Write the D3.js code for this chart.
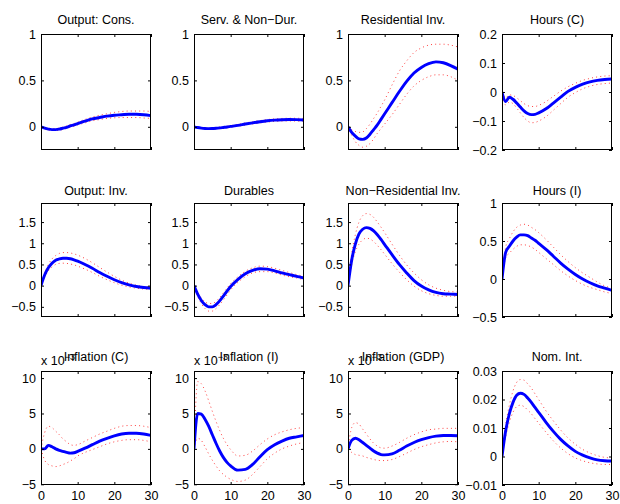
<!DOCTYPE html>
<html><head><meta charset="utf-8">
<script src="https://cdn.jsdelivr.net/npm/d3@7"></script>
<style>
html,body{margin:0;padding:0;background:#fff;}
text{font-family:"Liberation Sans",Arial,Helvetica,sans-serif;}
</style></head><body>
<svg id="chart" width="620" height="504"></svg>
<script>
// Horizon (quarters) at which responses are read
const T = [0,1,2,3,4,5,6,7,8,9,10,12,14,16,18,20,22,24,26,28,30];

const titles = ["Output: Cons.","Serv. & Non\u2212Dur.","Residential Inv.","Hours (C)",
  "Output: Inv.","Durables","Non\u2212Residential Inv.","Hours (I)",
  "Inflation (C)","Inflation (I)","Inflation (GDP)","Nom. Int."];

// Output: Cons.
const consMed=[0,-0.015,-0.025,-0.03,-0.03,-0.025,-0.015,-0.005,0.01,0.02,0.035,0.06,0.085,0.1,0.115,0.125,0.13,0.135,0.135,0.13,0.12];
const consUp =[0,-0.01,-0.015,-0.02,-0.02,-0.012,-0.002,0.01,0.025,0.035,0.05,0.08,0.105,0.125,0.14,0.155,0.165,0.17,0.17,0.17,0.165];
const consLo =[0,-0.02,-0.035,-0.04,-0.04,-0.037,-0.028,-0.018,-0.005,0.005,0.02,0.042,0.065,0.078,0.09,0.097,0.1,0.1,0.1,0.095,0.09];
// Serv. & Non-Dur.
const servMed=[0,-0.008,-0.014,-0.018,-0.02,-0.019,-0.016,-0.012,-0.007,-0.002,0.004,0.016,0.03,0.043,0.055,0.065,0.072,0.076,0.078,0.077,0.074];
const servUp =[0,-0.005,-0.01,-0.013,-0.014,-0.012,-0.009,-0.004,0.002,0.007,0.013,0.026,0.041,0.055,0.067,0.078,0.085,0.09,0.092,0.092,0.09];
const servLo =[0,-0.011,-0.018,-0.023,-0.026,-0.026,-0.024,-0.02,-0.016,-0.011,-0.005,0.006,0.019,0.031,0.042,0.051,0.058,0.062,0.063,0.062,0.059];
// Residential Inv.
const resMed=[0,-0.06,-0.1,-0.13,-0.135,-0.12,-0.08,-0.03,0.02,0.08,0.14,0.26,0.38,0.49,0.58,0.64,0.68,0.7,0.69,0.66,0.62];
const resUp =[0,-0.03,-0.05,-0.06,-0.055,-0.02,0.03,0.09,0.15,0.22,0.29,0.45,0.6,0.71,0.8,0.85,0.88,0.89,0.89,0.88,0.86];
const resLo =[0,-0.09,-0.16,-0.2,-0.22,-0.21,-0.18,-0.13,-0.07,-0.02,0.03,0.13,0.24,0.35,0.44,0.5,0.54,0.56,0.56,0.54,0.5];
// Hours (C)
const hcMed=[0,-0.033,-0.018,-0.025,-0.038,-0.052,-0.065,-0.074,-0.078,-0.077,-0.072,-0.058,-0.038,-0.018,0.002,0.016,0.027,0.035,0.04,0.043,0.045];
const hcUp =[0,-0.02,-0.01,-0.012,-0.02,-0.03,-0.04,-0.047,-0.05,-0.05,-0.046,-0.033,-0.015,0.003,0.018,0.03,0.04,0.047,0.052,0.055,0.056];
const hcLo =[0,-0.045,-0.035,-0.04,-0.055,-0.072,-0.088,-0.1,-0.106,-0.105,-0.1,-0.085,-0.063,-0.04,-0.018,-0.002,0.011,0.02,0.026,0.029,0.031];
// Output: Inv.
const invMed=[0,0.25,0.42,0.53,0.6,0.63,0.645,0.645,0.635,0.61,0.58,0.5,0.41,0.31,0.22,0.14,0.07,0.02,-0.02,-0.045,-0.06];
const invUp =[0,0.3,0.5,0.63,0.71,0.76,0.78,0.78,0.77,0.75,0.72,0.64,0.54,0.43,0.32,0.22,0.13,0.06,0.01,-0.02,-0.03];
const invLo =[0,0.2,0.35,0.44,0.5,0.525,0.53,0.525,0.51,0.49,0.46,0.39,0.31,0.22,0.14,0.07,0.01,-0.03,-0.06,-0.08,-0.09];
// Durables
const durMed=[0,-0.2,-0.35,-0.45,-0.5,-0.5,-0.45,-0.36,-0.25,-0.13,-0.02,0.15,0.28,0.36,0.4,0.39,0.35,0.3,0.26,0.22,0.18];
const durUp =[0,-0.16,-0.29,-0.38,-0.42,-0.42,-0.37,-0.28,-0.17,-0.06,0.05,0.21,0.34,0.42,0.46,0.45,0.41,0.36,0.31,0.26,0.22];
const durLo =[0,-0.25,-0.42,-0.54,-0.6,-0.6,-0.54,-0.45,-0.34,-0.22,-0.1,0.08,0.21,0.3,0.33,0.33,0.3,0.25,0.21,0.18,0.14];
// Non-Residential Inv.
const nresMed=[0,0.6,0.98,1.22,1.33,1.37,1.35,1.29,1.2,1.09,0.97,0.73,0.5,0.3,0.12,-0.01,-0.1,-0.16,-0.19,-0.2,-0.21];
const nresUp =[0,0.75,1.2,1.5,1.65,1.7,1.68,1.61,1.5,1.38,1.25,0.98,0.72,0.49,0.3,0.14,0.02,-0.06,-0.11,-0.14,-0.15];
const nresLo =[0,0.5,0.8,0.98,1.08,1.12,1.1,1.04,0.95,0.85,0.74,0.52,0.32,0.14,-0.01,-0.12,-0.19,-0.23,-0.25,-0.25,-0.25];
// Hours (I)
const hiMed=[0,0.35,0.43,0.5,0.55,0.58,0.58,0.57,0.54,0.51,0.47,0.39,0.3,0.21,0.13,0.06,0,-0.05,-0.09,-0.12,-0.15];
const hiUp =[0,0.42,0.53,0.62,0.68,0.71,0.72,0.71,0.68,0.65,0.61,0.52,0.42,0.32,0.23,0.15,0.08,0.02,-0.04,-0.09,-0.12];
const hiLo =[0,0.28,0.34,0.39,0.43,0.45,0.45,0.44,0.42,0.39,0.35,0.27,0.19,0.11,0.04,-0.02,-0.07,-0.11,-0.14,-0.17,-0.19];
// Inflation (C), x 10^-3
const picMed=[0,0,0.5,0.3,0,-0.2,-0.35,-0.5,-0.6,-0.55,-0.35,0.1,0.6,1.1,1.5,1.85,2.1,2.2,2.2,2.1,1.9];
const picUp =[0,2.3,3.2,3.0,2.5,2.0,1.4,1.0,0.6,0.5,0.6,1.1,1.6,2.1,2.5,2.9,3.2,3.3,3.3,3.2,3.0];
const picLo =[0,-1.6,-2.2,-2.4,-2.5,-2.4,-2.2,-2.0,-1.7,-1.4,-1.0,-0.5,-0.1,0.3,0.7,1.0,1.2,1.3,1.3,1.2,1.0];
// Inflation (I), x 10^-3
const piiMed=[0,5.0,4.9,4.2,3.2,2.0,0.8,-0.3,-1.2,-1.9,-2.4,-3.0,-2.9,-2.2,-1.1,-0.1,0.6,1.1,1.5,1.7,1.9];
const piiUp =[0,9.5,9.2,8.2,6.8,5.3,3.9,2.6,1.5,0.6,-0.1,-1.0,-0.9,-0.3,0.6,1.4,2.0,2.4,2.7,2.9,3.0];
const piiLo =[0,1.5,1.2,0.3,-0.7,-1.6,-2.4,-3.1,-3.6,-4.0,-4.3,-4.6,-4.4,-3.6,-2.5,-1.4,-0.6,0,0.4,0.7,0.9];
// Inflation (GDP), x 10^-3
const pigMed=[0,1.2,1.5,1.3,0.9,0.5,0.1,-0.3,-0.6,-0.8,-0.85,-0.7,-0.2,0.4,0.9,1.3,1.6,1.8,1.9,1.9,1.85];
const pigUp =[0,3.0,3.7,3.5,2.8,2.1,1.4,0.8,0.4,0.15,0.1,0.4,0.9,1.5,2.0,2.4,2.7,2.8,2.9,2.9,2.9];
const pigLo =[0,-0.5,-0.8,-0.9,-1.0,-1.2,-1.35,-1.5,-1.6,-1.65,-1.65,-1.5,-1.1,-0.6,-0.1,0.3,0.6,0.85,1.0,1.05,1.0];
// Nom. Int.
const nomMed=[0,0.009,0.015,0.019,0.0215,0.0222,0.0218,0.0205,0.019,0.0172,0.0155,0.012,0.0088,0.006,0.0037,0.0018,0.0005,-0.0005,-0.0012,-0.0015,-0.0016];
const nomUp =[0,0.011,0.018,0.023,0.026,0.027,0.0268,0.0255,0.024,0.022,0.02,0.016,0.0125,0.0093,0.0065,0.0043,0.0025,0.0012,0.0003,-0.0003,-0.0005];
const nomLo =[0,0.007,0.012,0.0155,0.0175,0.018,0.0175,0.0163,0.015,0.0133,0.0117,0.0085,0.0055,0.003,0.001,-0.0005,-0.0015,-0.0022,-0.0026,-0.0028,-0.0028];

const medians=[consMed,servMed,resMed,hcMed,invMed,durMed,nresMed,hiMed,picMed,piiMed,pigMed,nomMed];
const uppers =[consUp,servUp,resUp,hcUp,invUp,durUp,nresUp,hiUp,picUp,piiUp,pigUp,nomUp];
const lowers =[consLo,servLo,resLo,hcLo,invLo,durLo,nresLo,hiLo,picLo,piiLo,pigLo,nomLo];

const yDomains=[[-0.25,1],[-0.25,1],[-0.25,1],[-0.2,0.2],
  [-0.74,1.95],[-0.74,1.95],[-0.74,1.95],[-0.5,1],
  [-5.1,11],[-5.1,11],[-5.1,11],[-0.01,0.03]];
const yTicks=[[0,0.5,1],[0,0.5,1],[0,0.5,1],[-0.2,-0.1,0,0.1,0.2],
  [-0.5,0,0.5,1,1.5],[-0.5,0,0.5,1,1.5],[-0.5,0,0.5,1,1.5],[-0.5,0,0.5,1],
  [-5,0,5,10],[-5,0,5,10],[-5,0,5,10],[-0.01,0,0.01,0.02,0.03]];
const xTicks=[0,10,20,30];
const scaled=[false,false,false,false,false,false,false,false,true,true,true,false];

const svg=d3.select("#chart");
const colX=[41,194,348,502], pw=110;
const rowY=[[34,150],[203,317],[371,485]];
const titleGap=[10,8,10];
const FS="12.5px";
const fmt=v=>{let s=String(+v.toFixed(4));return s.replace("-","\u2212");};

titles.forEach((title,i)=>{
  const c=i%4,r=Math.floor(i/4);
  const x0=colX[c],x1=x0+pw,y0=rowY[r][0],y1=rowY[r][1];
  const x=d3.scaleLinear().domain([0,30]).range([x0,x1]);
  const y=d3.scaleLinear().domain(yDomains[i]).range([y1,y0]);
  const g=svg.append("g");
  g.append("clipPath").attr("id","clip"+i).append("rect")
    .attr("x",x0).attr("y",y0).attr("width",pw).attr("height",y1-y0);
  const line=d3.line().x((d,k)=>x(T[k])).y(d=>y(d)).curve(d3.curveMonotoneX);
  const pg=g.append("g").attr("clip-path","url(#clip"+i+")");
  [uppers[i],lowers[i]].forEach(arr=>{
    pg.append("path").attr("d",line(arr)).attr("fill","none")
      .attr("stroke","#ff0000").attr("stroke-width",1).attr("stroke-dasharray","1,3.2")
      .attr("opacity",0.75);
  });
  pg.append("path").attr("d",line(medians[i])).attr("fill","none")
    .attr("stroke","#0000ff").attr("stroke-width",2.9).attr("stroke-linejoin","round");

  const axL=d3.axisLeft(y).tickValues(yTicks[i]).tickSize(-3).tickPadding(5).tickFormat(fmt);
  const axR=d3.axisRight(y).tickValues(yTicks[i]).tickSize(-3).tickFormat("");
  const axB=d3.axisBottom(x).tickValues(xTicks).tickSize(-3).tickPadding(6).tickFormat(r===2?fmt:"");
  const axT=d3.axisTop(x).tickValues(xTicks).tickSize(-3).tickFormat("");
  [[axL,`translate(${x0},0)`],[axR,`translate(${x1},0)`],[axB,`translate(0,${y1})`],[axT,`translate(0,${y0})`]]
  .forEach(([ax,tr])=>{
    const a=g.append("g").attr("transform",tr).call(ax);
    a.select(".domain").remove();
    a.selectAll("line").attr("stroke","#000");
    a.selectAll("text").attr("fill","#000").style("font-size",FS)
      .style("font-family",'"Liberation Sans",Arial,sans-serif');
  });
  g.append("rect").attr("x",x0+0.5).attr("y",y0+0.5).attr("width",pw-1).attr("height",y1-y0-1)
    .attr("fill","none").attr("stroke","#000").attr("stroke-width",1);

  if(scaled[i]){
    const t=g.append("text").attr("x",x0).attr("y",y0-6).attr("fill","#000").style("font-size",FS);
    t.append("tspan").text("x 10");
    t.append("tspan").attr("dy",-5).style("font-size","9px").text("\u22123");
  }
  g.append("text").attr("x",(x0+x1)/2).attr("y",y0-titleGap[r]).attr("text-anchor","middle")
    .attr("fill","#000").style("font-size",FS).text(title);
});
</script>
</body></html>
